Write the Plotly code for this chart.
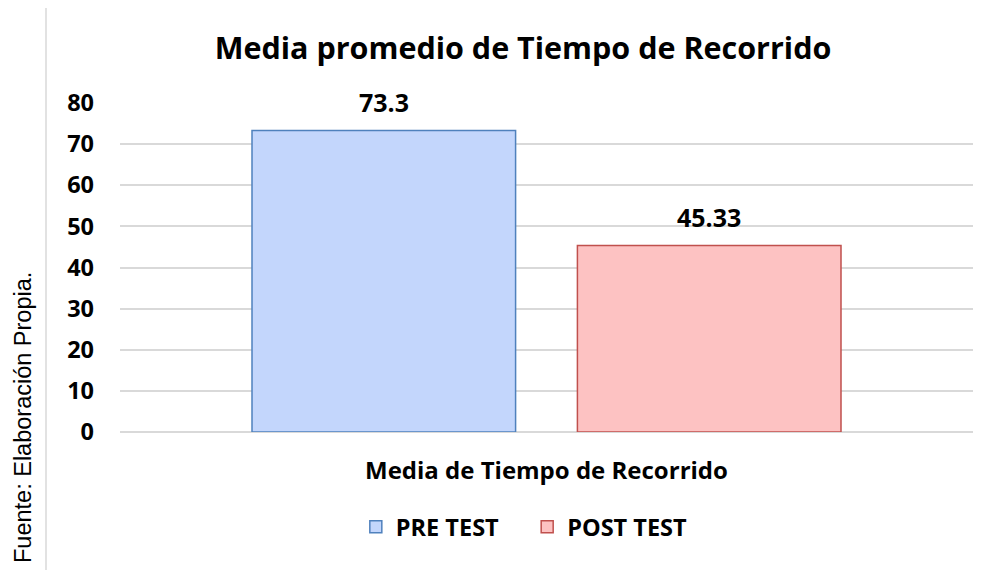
import plotly.graph_objects as go

# --------------------------------------------------------------------------- #
# Data
# --------------------------------------------------------------------------- #
categories = ["Media de Tiempo de Recorrido"]
series_names = ["PRE TEST", "POST TEST"]
pre_test = [73.3]
post_test = [45.33]
pre_labels = ["73.3"]
post_labels = ["45.33"]

FONT = "Open Sans"
GRID = "#d9d9d9"

# The page body adds an 8px margin, so the figure is 8px smaller than the window
fig = go.Figure()
fig.add_trace(go.Bar(
    name=f"<b>{series_names[0]}</b>\u2002\u2002", x=categories, y=pre_test,
    marker=dict(color="#c3d6fc", line=dict(color="#4f81bd", width=1.5)),
))
fig.add_trace(go.Bar(
    name=f"<b>{series_names[1]}</b>", x=categories, y=post_test,
    marker=dict(color="#fdc2c2", line=dict(color="#c0504d", width=1.5)),
))

fig.update_layout(
    width=981, height=562,
    margin=dict(l=112, r=16, t=95, b=138),
    plot_bgcolor="white", paper_bgcolor="white",
    barmode="group", bargap=0.237, bargroupgap=0.19,
    font=dict(family=FONT, color="black"),
    title=dict(text="<b>Media promedio de Tiempo de Recorrido</b>",
               x=0.525, xanchor="center", y=0.929, yanchor="middle",
               font=dict(family=FONT, size=30.5, color="black")),
    showlegend=True,
    legend=dict(orientation="h", x=0.474, xanchor="center", y=-0.289, yanchor="middle",
                font=dict(family=FONT, size=23.5, color="black"),
                traceorder="normal", itemwidth=30),
)
fig.update_xaxes(showticklabels=False, showgrid=False, zeroline=False, showline=False)
fig.update_yaxes(range=[0, 80], dtick=10, showgrid=True, gridcolor=GRID, gridwidth=1.5,
                 zeroline=True, zerolinecolor=GRID, zerolinewidth=1.5,
                 tickfont=dict(family=FONT, size=23.5, color="black"),
                 tickprefix="<b>", ticksuffix="</b>", ticklabelstandoff=25)

# value labels above each bar (grouped offsets of half a bar slot)
for vals, labels, shift in [(pre_test, pre_labels, -162.75), (post_test, post_labels, 162.75)]:
    for cat, v, lbl in zip(categories, vals, labels):
        fig.add_annotation(x=cat, y=v, text=f"<b>{lbl}</b>", showarrow=False,
                           xshift=shift, yshift=29, yanchor="middle",
                           font=dict(family=FONT, size=25, color="black"))

# x-axis caption
fig.add_annotation(text="<b>Media de Tiempo de Recorrido</b>", xref="paper", yref="paper",
                   x=0.5, y=(432 - 469) / 329, xanchor="center", yanchor="middle",
                   showarrow=False, font=dict(family=FONT, size=24, color="black"))

# source note, vertical
fig.add_annotation(text="Fuente: Elaboración Propia.", xref="paper", yref="paper",
                   x=(23 - 120) / 853, y=(432 - 418) / 329, xanchor="center", yanchor="middle",
                   textangle=-90, showarrow=False, borderpad=0,
                   font=dict(family="Liberation Sans", size=23.5, color="black"))

# chart frame
fig.add_shape(type="rect", xref="paper", yref="paper",
              x0=(46 - 120) / 853, x1=1.2, y0=-0.6, y1=(432 - 4) / 329,
              line=dict(color=GRID, width=1.5), fillcolor="rgba(0,0,0,0)", layer="below")

fig.write_html("out.html")
